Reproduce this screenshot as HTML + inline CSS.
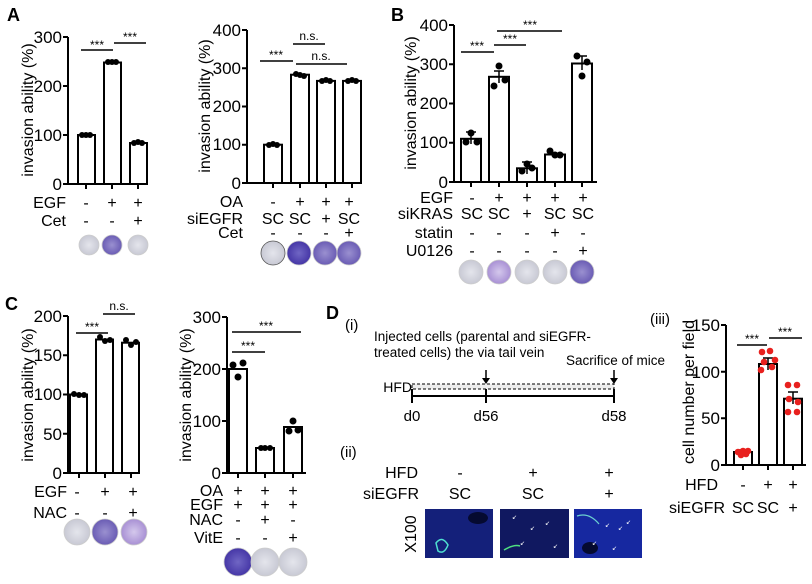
<!DOCTYPE html>
<html><head><meta charset="utf-8"><style>
html,body{margin:0;padding:0;background:#fff}
svg{display:block;font-family:"Liberation Sans",Arial,sans-serif}
</style></head><body>
<svg width="812" height="584" viewBox="0 0 812 584" xmlns="http://www.w3.org/2000/svg">
<defs>
<radialGradient id="pur" cx="50%" cy="50%" r="50%"><stop offset="0" stop-color="#9a90d0"/><stop offset="1" stop-color="#6a5cb4"/></radialGradient>
<radialGradient id="dpur" cx="50%" cy="50%" r="50%"><stop offset="0" stop-color="#7066c4"/><stop offset="1" stop-color="#4536a6"/></radialGradient>
<radialGradient id="gry" cx="50%" cy="50%" r="50%"><stop offset="0" stop-color="#e4e5ec"/><stop offset="1" stop-color="#c8c9d4"/></radialGradient>
<radialGradient id="lpur" cx="50%" cy="50%" r="50%"><stop offset="0" stop-color="#d4c8ec"/><stop offset="1" stop-color="#a890d4"/></radialGradient>
</defs>
<g fill="none" stroke="#000" stroke-width="2">
<path d="M68,37V184H148M63,37H68M63,86H68M63,135H68M63,184H68"/>
<rect x="78" y="135" width="17" height="49" fill="#fff"/>
<rect x="104" y="62.5" width="17" height="121.5" fill="#fff"/>
<rect x="130" y="143" width="17" height="41" fill="#fff"/>
<path d="M86,184v5M112,184v5M138,184v5" />
<path d="M81,50H113M114,43H146" stroke-width="1.5"/>
<path d="M247,30V183H357M242,30H247M242,68.2H247M242,106.5H247M242,144.7H247M242,183H247"/>
<rect x="264" y="144.7" width="18" height="38.3" fill="#fff"/>
<rect x="291" y="74.7" width="18" height="108.3" fill="#fff"/>
<rect x="317" y="80.9" width="18" height="102.1" fill="#fff"/>
<rect x="343" y="80.9" width="18" height="102.1" fill="#fff"/>
<path d="M273,183v5M300,183v5M326,183v5M352,183v5"/>
<path d="M260,61H293M293,44H325M296,64H347" stroke-width="1.5"/>
<path d="M454,25V182H597M449,25H454M449,64.25H454M449,103.5H454M449,142.75H454M449,182H454"/>
<rect x="461" y="138.8" width="20" height="43.2" fill="#fff"/>
<rect x="489" y="76.8" width="20" height="105.2" fill="#fff"/>
<rect x="517" y="168.3" width="20" height="13.7" fill="#fff"/>
<rect x="545" y="154.5" width="20" height="27.5" fill="#fff"/>
<rect x="572" y="63.5" width="20" height="118.5" fill="#fff"/>
<path d="M471,182v5M499,182v5M527,182v5M555,182v5M582,182v5"/>
<path d="M461,52H494M494,45H526M497,31H562" stroke-width="1.5"/>
<path d="M471,132v12M466,132h10M499,71v12M494,71h10M527,162v12M522,162h10M582,56v14M577,56h10" stroke-width="1.5"/>
<path d="M68,316V473H140M63,316H68M63,355.25H68M63,394.5H68M63,433.75H68M63,473H68"/>
<rect x="70" y="394.5" width="17" height="78.5" fill="#fff"/>
<rect x="96" y="339.5" width="17" height="133.5" fill="#fff"/>
<rect x="122" y="342.7" width="17" height="130.3" fill="#fff"/>
<path d="M79,473v5M105,473v5M131,473v5"/>
<path d="M76,333H108M103,314H135" stroke-width="1.5"/>
<path d="M227,317V473H306M222,317H227M222,369H227M222,421H227M222,473H227"/>
<rect x="229" y="369" width="18" height="104" fill="#fff"/>
<rect x="256" y="448" width="18" height="25" fill="#fff"/>
<rect x="284" y="427" width="18" height="46" fill="#fff"/>
<path d="M238,473v5M265,473v5M293,473v5"/>
<path d="M232,352H265M232,332H301" stroke-width="1.5"/>
<path d="M726,325V465H806M721,325H726M721,371.7H726M721,418.3H726M721,465H726"/>
<rect x="734" y="452" width="18" height="13" fill="#fff"/>
<rect x="759" y="364" width="18" height="101" fill="#fff"/>
<rect x="784" y="398.7" width="18" height="66.3" fill="#fff"/>
<path d="M743,465v5M768,465v5M793,465v5"/>
<path d="M737,345H767M769,338H802" stroke-width="1.5"/>
<path d="M768,358v12M763,358h10M793,392v12M788,392h10M743,450v5M738,450h10" stroke-width="1.5"/>
<path d="M412,396H614M412,389v14M486,389v14M614,389v14"/>
<rect x="412" y="384" width="202" height="5" stroke-width="1" stroke-dasharray="3,2" fill="#eee"/>
<path d="M486,370v12M614,370v12" stroke-width="1.5"/>
</g>
<g fill="#000">
<path d="M482,378l4,6l4,-6zM610,378l4,6l4,-6z"/>
<circle cx="82" cy="135" r="3"/><circle cx="86" cy="135" r="3"/><circle cx="90" cy="135" r="3"/>
<circle cx="108" cy="62" r="3"/><circle cx="112" cy="62" r="3"/><circle cx="116" cy="62" r="3"/>
<circle cx="134" cy="143" r="3"/><circle cx="138" cy="142" r="3"/><circle cx="142" cy="143" r="3"/>
<circle cx="269" cy="145" r="3"/><circle cx="273" cy="144" r="3"/><circle cx="277" cy="145" r="3"/>
<circle cx="296" cy="74" r="3"/><circle cx="300" cy="75" r="3"/><circle cx="304" cy="76" r="3"/>
<circle cx="322" cy="81" r="3"/><circle cx="326" cy="80" r="3"/><circle cx="330" cy="81" r="3"/>
<circle cx="348" cy="81" r="3"/><circle cx="352" cy="80" r="3"/><circle cx="356" cy="81" r="3"/>
<circle cx="466" cy="142" r="3.5"/><circle cx="471" cy="133" r="3.5"/><circle cx="477" cy="142" r="3.5"/>
<circle cx="494" cy="86" r="3.5"/><circle cx="499" cy="66" r="3.5"/><circle cx="505" cy="80" r="3.5"/>
<circle cx="522" cy="171" r="3.5"/><circle cx="527" cy="164" r="3.5"/><circle cx="532" cy="168" r="3.5"/>
<circle cx="550" cy="151" r="3.5"/><circle cx="555" cy="155" r="3.5"/><circle cx="560" cy="155" r="3.5"/>
<circle cx="577" cy="56" r="3.5"/><circle cx="582" cy="76" r="3.5"/><circle cx="587" cy="62" r="3.5"/>
<circle cx="74" cy="394" r="3"/><circle cx="79" cy="395" r="3"/><circle cx="84" cy="395" r="3"/>
<circle cx="100" cy="337" r="3"/><circle cx="105" cy="341" r="3"/><circle cx="110" cy="340" r="3"/>
<circle cx="126" cy="340" r="3"/><circle cx="131" cy="345" r="3"/><circle cx="136" cy="342" r="3"/>
<circle cx="233" cy="365" r="3.5"/><circle cx="238" cy="377" r="3.5"/><circle cx="243" cy="363" r="3.5"/>
<circle cx="261" cy="448" r="3"/><circle cx="265" cy="448" r="3"/><circle cx="270" cy="448" r="3"/>
<circle cx="289" cy="431" r="3.5"/><circle cx="293" cy="421" r="3.5"/><circle cx="298" cy="430" r="3.5"/>
</g>
<g fill="#e8201e">
<circle cx="738" cy="452" r="3.3"/><circle cx="743" cy="451" r="3.3"/><circle cx="748" cy="451" r="3.3"/><circle cx="741" cy="455" r="3.3"/><circle cx="746" cy="454" r="3.3"/>
<circle cx="762" cy="352" r="3.3"/><circle cx="770" cy="351" r="3.3"/><circle cx="775" cy="360" r="3.3"/><circle cx="764" cy="362" r="3.3"/><circle cx="772" cy="367" r="3.3"/><circle cx="761" cy="370" r="3.3"/>
<circle cx="788" cy="385" r="3.3"/><circle cx="797" cy="385" r="3.3"/><circle cx="789" cy="399" r="3.3"/><circle cx="798" cy="402" r="3.3"/><circle cx="788" cy="412" r="3.3"/><circle cx="797" cy="412" r="3.3"/>
</g>
<g stroke="#ccc" stroke-width="0.8">
<circle cx="89" cy="245" r="10" fill="url(#gry)"/><circle cx="112" cy="245" r="10" fill="url(#pur)"/><circle cx="138" cy="245" r="10" fill="url(#gry)"/>
<circle cx="273" cy="253" r="12" fill="url(#gry)" stroke="#555"/><circle cx="299" cy="253" r="12" fill="url(#dpur)"/><circle cx="325" cy="253" r="12" fill="url(#pur)"/><circle cx="349" cy="253" r="12" fill="url(#pur)"/>
<circle cx="471" cy="272" r="12" fill="url(#gry)"/><circle cx="499" cy="272" r="12" fill="url(#lpur)"/><circle cx="527" cy="272" r="12" fill="url(#gry)"/><circle cx="555" cy="272" r="12" fill="url(#gry)"/><circle cx="582" cy="272" r="12" fill="url(#pur)"/>
<circle cx="77" cy="532" r="13" fill="url(#gry)"/><circle cx="105" cy="532" r="13" fill="url(#pur)"/><circle cx="134" cy="532" r="13" fill="url(#lpur)"/>
<circle cx="238" cy="562" r="14" fill="url(#dpur)"/><circle cx="265" cy="562" r="14" fill="url(#gry)"/><circle cx="293" cy="562" r="14" fill="url(#gry)"/>
</g>
<rect x="425" y="509" width="68" height="49" fill="#14207a"/>
<rect x="500" y="509" width="69" height="49" fill="#101860"/>
<rect x="574" y="509" width="68" height="49" fill="#1628a0"/>
<ellipse cx="478" cy="518" rx="10" ry="6" fill="#050a30"/>
<ellipse cx="590" cy="548" rx="8" ry="6" fill="#050a30"/>
<path d="M436,543q6,-8 12,2q-4,10 -10,6z" fill="none" stroke="#4ee0d0" stroke-width="1.5"/>
<path d="M504,550q10,-6 16,-4" fill="none" stroke="#4ee080" stroke-width="1.5"/>
<path d="M577,516q12,-4 22,8" fill="none" stroke="#6ad0d0" stroke-width="1.2"/>
<g fill="#fff" font-size="6"><text x="512" y="519">↙</text><text x="530" y="530">↙</text><text x="545" y="525">↙</text><text x="520" y="545">↙</text><text x="553" y="548">↙</text><text x="605" y="527">↙</text><text x="618" y="530">↙</text><text x="626" y="524">↙</text><text x="592" y="545">↙</text><text x="612" y="550">↙</text></g>
<g font-size="18" font-weight="bold"><text x="7" y="21">A</text><text x="391" y="21">B</text><text x="5" y="310">C</text><text x="326" y="319">D</text></g>
<g font-size="17" text-anchor="end">
<text x="62" y="43">300</text><text x="62" y="92">200</text><text x="62" y="141">100</text><text x="62" y="190">0</text>
<text x="241" y="36">400</text><text x="241" y="74">300</text><text x="241" y="112">200</text><text x="241" y="150">100</text><text x="241" y="189">0</text>
<text x="448" y="31">400</text><text x="448" y="70">300</text><text x="448" y="109">200</text><text x="448" y="148">100</text><text x="448" y="188">0</text>
<text x="62" y="322">200</text><text x="62" y="361">150</text><text x="62" y="400">100</text><text x="62" y="440">50</text><text x="62" y="479">0</text>
<text x="221" y="323">300</text><text x="221" y="375">200</text><text x="221" y="427">100</text><text x="221" y="479">0</text>
<text x="720" y="331">150</text><text x="720" y="378">100</text><text x="720" y="424">50</text><text x="720" y="471">0</text>
</g>
<g font-size="16" text-anchor="end">
<text x="66" y="208">EGF</text><text x="66" y="226">Cet</text>
<text x="243" y="207">OA</text><text x="243" y="224">siEGFR</text><text x="243" y="238">Cet</text>
<text x="453" y="203">EGF</text><text x="453" y="219">siKRAS</text><text x="453" y="238">statin</text><text x="453" y="256">U0126</text>
<text x="67" y="497">EGF</text><text x="67" y="518">NAC</text>
<text x="223" y="496">OA</text><text x="223" y="510">EGF</text><text x="223" y="525">NAC</text><text x="223" y="543">VitE</text>
<text x="418" y="478">HFD</text><text x="419" y="499">siEGFR</text>
<text x="718" y="490">HFD</text>
</g>
<g font-size="16" text-anchor="middle">
<text x="86" y="208">-</text><text x="112" y="208">+</text><text x="138" y="208">+</text>
<text x="86" y="226">-</text><text x="112" y="226">-</text><text x="138" y="226">+</text>
<text x="273" y="207">-</text><text x="300" y="207">+</text><text x="326" y="207">+</text><text x="349" y="207">+</text>
<text x="273" y="224">SC</text><text x="300" y="224">SC</text><text x="326" y="224">+</text><text x="349" y="224">SC</text>
<text x="273" y="238">-</text><text x="300" y="238">-</text><text x="326" y="238">-</text><text x="349" y="238">+</text>
<text x="472" y="203">-</text><text x="499" y="203">+</text><text x="527" y="203">+</text><text x="555" y="203">+</text><text x="583" y="203">+</text>
<text x="472" y="219">SC</text><text x="499" y="219">SC</text><text x="527" y="219">+</text><text x="555" y="219">SC</text><text x="583" y="219">SC</text>
<text x="472" y="238">-</text><text x="499" y="238">-</text><text x="527" y="238">-</text><text x="555" y="238">+</text><text x="583" y="238">-</text>
<text x="472" y="256">-</text><text x="499" y="256">-</text><text x="527" y="256">-</text><text x="555" y="256">-</text><text x="583" y="256">+</text>
<text x="77" y="497">-</text><text x="105" y="497">+</text><text x="133" y="497">+</text>
<text x="77" y="518">-</text><text x="105" y="518">-</text><text x="133" y="518">+</text>
<text x="238" y="496">+</text><text x="265" y="496">+</text><text x="293" y="496">+</text>
<text x="238" y="510">+</text><text x="265" y="510">+</text><text x="293" y="510">+</text>
<text x="238" y="525">-</text><text x="265" y="525">+</text><text x="293" y="525">-</text>
<text x="238" y="543">-</text><text x="265" y="543">-</text><text x="293" y="543">+</text>
<text x="460" y="478">-</text><text x="533" y="478">+</text><text x="609" y="478">+</text>
<text x="460" y="499">SC</text><text x="533" y="499">SC</text><text x="609" y="499">+</text>
<text x="743" y="490">-</text><text x="768" y="490">+</text><text x="793" y="490">+</text>
<text x="697" y="513">siEGFR</text><text x="743" y="513">SC</text><text x="768" y="513">SC</text><text x="793" y="513">+</text>
</g>
<g font-size="12" text-anchor="middle">
<text x="97" y="49">***</text><text x="130" y="41">***</text>
<text x="276" y="59">***</text><text x="309" y="40">n.s.</text><text x="321" y="60">n.s.</text>
<text x="477" y="50">***</text><text x="510" y="43">***</text><text x="530" y="29">***</text>
<text x="92" y="331">***</text><text x="119" y="310">n.s.</text>
<text x="248" y="350">***</text><text x="266" y="330">***</text>
<text x="752" y="343">***</text><text x="785" y="336">***</text>
</g>
<g font-size="16" text-anchor="middle">
<text transform="translate(33,110) rotate(-90)">invasion ability (%)</text>
<text transform="translate(210,106) rotate(-90)">invasion ability (%)</text>
<text transform="translate(416,103) rotate(-90)">invasion ability (%)</text>
<text transform="translate(33,395) rotate(-90)">invasion ability (%)</text>
<text transform="translate(191,395) rotate(-90)">invasion ability (%)</text>
<text transform="translate(694,392) rotate(-90)">cell number per field</text>
<text transform="translate(416,534) rotate(-90)">X100</text>
</g>
<g font-size="15" text-anchor="middle">
<text x="412" y="421">d0</text><text x="486" y="421">d56</text><text x="614" y="421">d58</text>
</g>
<g font-size="13.5">
<text x="345" y="330" font-size="15">(i)</text>
<text x="340" y="457" font-size="15">(ii)</text>
<text x="650" y="324" font-size="15">(iii)</text>
<text x="374" y="341">Injected cells (parental and siEGFR-</text>
<text x="374" y="357">treated cells) the via tail vein</text>
<text x="566" y="365">Sacrifice of mice</text>
<text x="412" y="392" text-anchor="end" font-size="14">HFD</text>
</g>
</svg>
</body></html>
